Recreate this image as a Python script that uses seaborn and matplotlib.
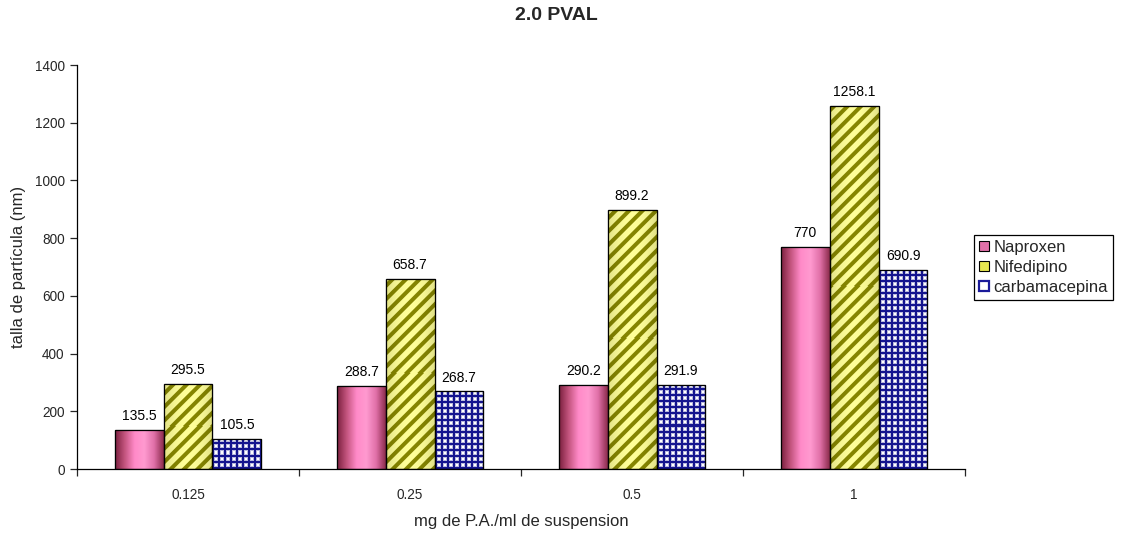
import numpy as np
import pandas as pd
import matplotlib
matplotlib.use("Agg")
import matplotlib.pyplot as plt
from matplotlib.patches import Rectangle, Patch
from matplotlib.colors import LinearSegmentedColormap, to_rgb
import seaborn as sns

# Data
categories = ["0.125", "0.25", "0.5", "1"]
naproxen = [135.5, 288.7, 290.2, 770]
nifedipino = [295.5, 658.7, 899.2, 1258.1]
carbamacepina = [105.5, 268.7, 291.9, 690.9]
series_names = ["Naproxen", "Nifedipino", "carbamacepina"]
yticks = [0, 200, 400, 600, 800, 1000, 1200, 1400]

df = pd.DataFrame({
    "conc": categories * 3,
    "size": naproxen + nifedipino + carbamacepina,
    "drug": [n for n in series_names for _ in categories],
})

sns.set_style("white")
plt.rcParams["font.family"] = ["Liberation Sans", "DejaVu Sans"]

fig = plt.figure(figsize=(11.21, 5.33), dpi=100)
ax = fig.add_axes([0.0687, 0.120, 0.7923, 0.758])

sns.barplot(data=df, x="conc", y="size", hue="drug", order=categories,
            hue_order=series_names, width=0.66, ax=ax, legend=False,
            palette=["#ff8ac8", "#ffff99", "#ffffff"], saturation=1,
            edgecolor="black", linewidth=0.8, errorbar=None)

ax.set_xlim(-0.5, 3.5)
ax.set_ylim(0, 1400)
ax.set_autoscale_on(False)

pink_cmap = LinearSegmentedColormap.from_list(
    "pink", ["#7a1f3d", "#c4557f", "#ff8ac8", "#ff9ad0", "#e070a8", "#8a2a4a"])
grad = np.linspace(0, 1, 256).reshape(1, -1)


def pixel_size(x0, w, h):
    p0, p1 = ax.transData.transform([[x0, 0], [x0 + w, h]])
    return max(int(round(p1[0] - p0[0])), 1), max(int(round(p1[1] - p0[1])), 1)


def stripe_texture(wpx, hpx, period=13.5):
    """Diagonal olive stripes on pale yellow, slightly shaded at the sides."""
    xx, yy = np.meshgrid(np.arange(wpx) + 0.5, np.arange(hpx) + 0.5)
    phase = ((xx - yy) / period) % 1.0
    d = np.abs(phase - 0.5)
    dark = np.clip((0.21 - d) / 0.10 + 0.5, 0, 1)
    light = np.array(to_rgb("#ffff99"))
    olive = np.array(to_rgb("#868600"))
    img = light * (1 - dark[..., None]) + olive * dark[..., None]
    u = xx / wpx
    shade = 1 - 0.12 * np.abs(2 * u - 1) ** 2
    return np.clip(img * shade[..., None], 0, 1)


def grid_texture(wpx, hpx, period=6):
    """Navy square grid on white."""
    xx, yy = np.meshgrid(np.arange(wpx), np.arange(hpx))
    prof = np.array([1.0, 1.0, 0.3, 0.0, 0.0, 0.3])[:period]
    v = np.maximum(prof[xx % period], prof[yy % period])
    navy = np.array(to_rgb("#14148f"))
    white = np.ones(3)
    return white * (1 - v[..., None]) + navy * v[..., None]


for ci, cont in enumerate(ax.containers):
    for bar in cont:
        x0 = bar.get_x()
        w = bar.get_width()
        h = bar.get_height()
        wpx, hpx = pixel_size(x0, w, h)
        if ci == 0:
            im = ax.imshow(grad, cmap=pink_cmap, extent=[x0, x0 + w, 0, h],
                           aspect="auto", zorder=2.1, interpolation="bilinear")
        elif ci == 1:
            im = ax.imshow(stripe_texture(wpx, hpx), extent=[x0, x0 + w, 0, h],
                           origin="lower", aspect="auto", zorder=2.1,
                           interpolation="nearest")
        else:
            im = ax.imshow(grid_texture(wpx, hpx), extent=[x0, x0 + w, 0, h],
                           origin="lower", aspect="auto", zorder=2.1,
                           interpolation="nearest")
        im.set_clip_path(bar)
        ax.add_patch(Rectangle((x0, 0), w, h, fill=False, edgecolor="black",
                               linewidth=0.9, zorder=2.3))
        ax.text(x0 + w / 2, h + 24, f"{h:g}", ha="center", va="bottom",
                fontsize=10, color="black", zorder=3)

ax.set_yticks(yticks)
ax.set_yticklabels([str(t) for t in yticks], fontsize=9.8)
ax.set_xticks(range(len(categories)))
ax.set_xticklabels(categories, fontsize=9.8)
ax.set_xticks(np.arange(-0.5, 4, 1), minor=True)
ax.tick_params(axis="x", which="major", length=0, pad=14)
ax.tick_params(axis="x", which="minor", length=5, width=0.9, direction="out",
               bottom=True)
ax.tick_params(axis="y", length=5, width=0.9, direction="out", left=True, pad=4)

for side in ["top", "right"]:
    ax.spines[side].set_visible(False)
for side in ["left", "bottom"]:
    ax.spines[side].set_color("black")
    ax.spines[side].set_linewidth(0.9)

ax.set_xlabel("mg de P.A./ml de suspension", fontsize=12, labelpad=8)
ax.set_ylabel("talla de partícula (nm)", fontsize=12, labelpad=6)

fig.text(0.496, 0.970, "2.0 PVAL", ha="center", va="center",
         fontsize=14, fontweight="bold")

handles = [
    Patch(facecolor="#e070a8", edgecolor="black", linewidth=0.8),
    Patch(facecolor="#e6e650", edgecolor="black", linewidth=0.8),
    Patch(facecolor="white", edgecolor="#1a1a99", linewidth=1.6),
]
leg = fig.legend(handles, series_names, loc="center left",
                 bbox_to_anchor=(0.869, 0.498), fontsize=12, frameon=True,
                 fancybox=False, edgecolor="black", framealpha=1,
                 handlelength=0.6, handleheight=0.6, handletextpad=0.25,
                 borderpad=0.3, labelspacing=0.3, borderaxespad=0)
leg.get_frame().set_linewidth(0.9)

fig.savefig("out.png", dpi=100)
